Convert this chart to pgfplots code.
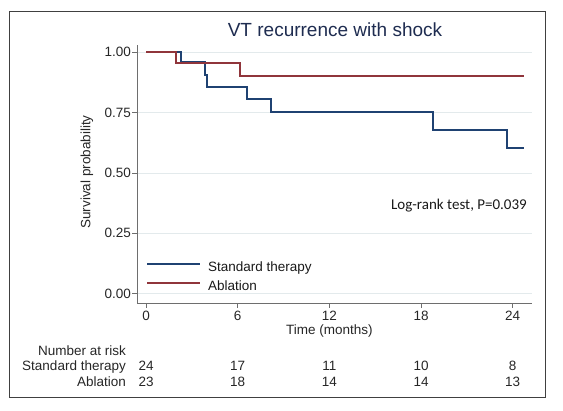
\documentclass[border=0pt]{standalone}
\usepackage{pgfplots}
\pgfplotsset{compat=1.18}
\usepackage{fontspec}
\setmainfont{Liberation Sans}
\newfontfamily\calibri{Carlito}
\definecolor{stnavy}{HTML}{1F4272}
\definecolor{stmaroon}{HTML}{90353B}
\definecolor{titlecol}{HTML}{1E2C50}
\definecolor{gridcol}{HTML}{E3EAEC}
\definecolor{axiscol}{HTML}{6E6E6E}
\newcommand{\fs}{\fontsize{13.5}{16}\selectfont}
\begin{document}
\begin{tikzpicture}
\path (0pt,0pt) rectangle (563pt,411pt);
\draw[color=black!75, line width=0.9pt] (9pt,14pt) rectangle (545pt,400pt);
\begin{axis}[
  at={(137pt,108pt)}, anchor=south west,
  width=395pt, height=258pt, scale only axis,
  xmin=-0.59, xmax=25.26, ymin=-0.039, ymax=1.03,
  axis x line*=bottom, axis y line*=left,
  axis line style={color=axiscol, line width=0.8pt},
  every tick/.style={color=axiscol, line width=0.8pt},
  tick align=outside, major tick length=5pt,
  xtick={0,6,12,18,24}, ytick={0,0.25,0.5,0.75,1},
  /pgf/number format/assume math mode=true,
  tick label style={font=\fs, color=black!85},
  yticklabel style={/pgf/number format/fixed, /pgf/number format/fixed zerofill, /pgf/number format/precision=2, inner xsep=1pt},
  xticklabel style={inner ysep=3pt},
  ymajorgrids, grid style={color=gridcol, line width=0.8pt},
  clip=false,
  legend style={at={(axis cs:0,0.0)}, anchor=south west, draw=none, fill=none,
    inner sep=0pt, row sep=6pt, column sep=7pt,
    nodes={inner sep=0pt, text height=10pt, text depth=3pt, font=\fs, color=black!90}},
  legend cell align=left,
  legend image code/.code={\draw[#1] (0pt,4pt) -- (53pt,4pt);},
]
\addplot[const plot, color=stnavy, line width=1.9pt] coordinates {
(0,1) (2.29,0.958) (3.86,0.907) (4.01,0.856) (6.59,0.808) (8.18,0.752) (18.76,0.678) (23.6,0.603) (24.76,0.603)};
\addlegendentry{Standard therapy}
\addplot[const plot, color=stmaroon, line width=1.8pt] coordinates {
(0,1) (1.96,0.957) (6.15,0.903) (24.76,0.903)};
\addlegendentry{Ablation}
\coordinate (t0) at (axis cs:0,0);
\coordinate (t6) at (axis cs:6,0);
\coordinate (t12) at (axis cs:12,0);
\coordinate (t18) at (axis cs:18,0);
\coordinate (t24) at (axis cs:24,0);
\end{axis}
\node[anchor=base, font=\fontsize{19}{22}\selectfont, color=titlecol] at (335pt,374pt) {VT recurrence with shock};
\node[rotate=90, font=\fs, color=black!85] at (87pt,239pt) {Survival probability};
\node[anchor=base, font=\fs, color=black!85] at (t12 |- 0pt,76pt) {Time (months)};
\node[anchor=base east, inner sep=0pt, font=\calibri\fontsize{15}{18}\selectfont, color=black!90] at (527pt,201pt) {Log-rank test, P=0.039};
\node[anchor=base east, inner sep=0pt, font=\fs, color=black!85] at (126pt,55.5pt) {Number at risk};
\node[anchor=base east, inner sep=0pt, font=\fs, color=black!85] at (126pt,40.5pt) {Standard therapy};
\node[anchor=base east, inner sep=0pt, font=\fs, color=black!85] at (126pt,24.5pt) {Ablation};
\foreach \t/\a/\b in {t0/24/23, t6/17/18, t12/11/14, t18/10/14, t24/8/13} {
  \node[anchor=base, font=\fs, color=black!85] at (\t |- 0pt,40.5pt) {\a};
  \node[anchor=base, font=\fs, color=black!85] at (\t |- 0pt,24.5pt) {\b};
}
\end{tikzpicture}
\end{document}
